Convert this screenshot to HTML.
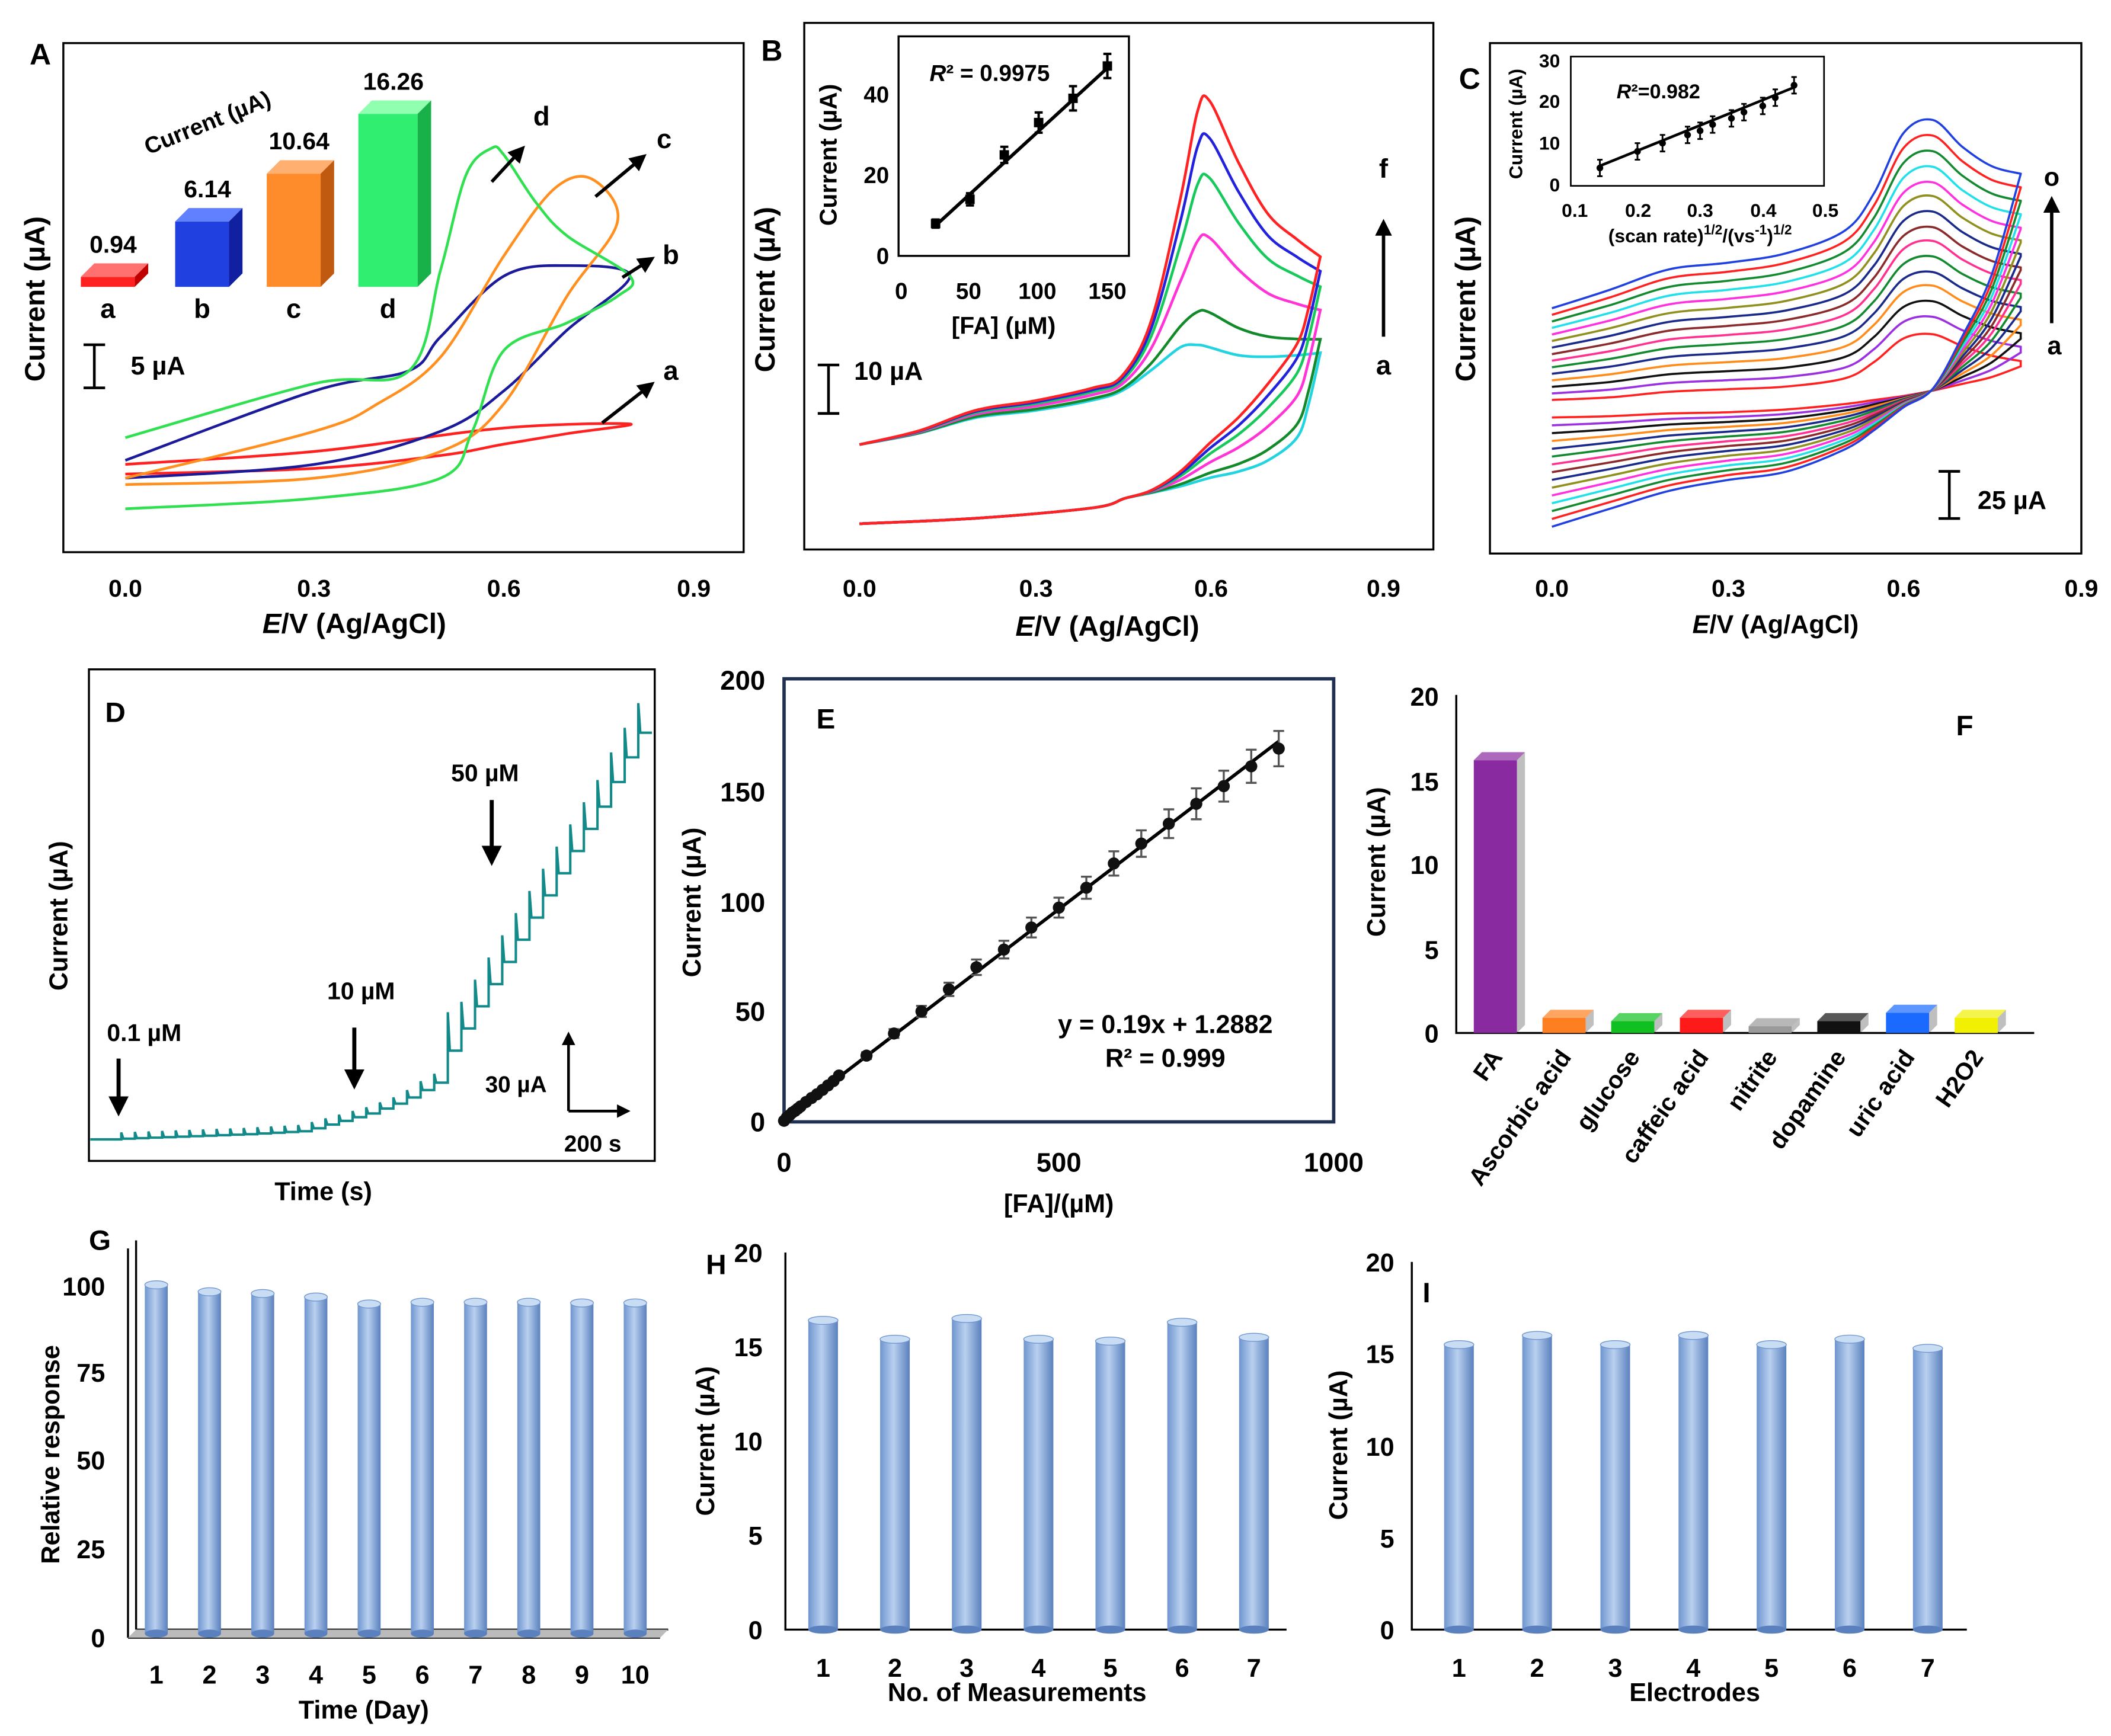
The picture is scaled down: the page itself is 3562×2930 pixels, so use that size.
<!DOCTYPE html>
<html><head><meta charset="utf-8"><title>FA sensor figure</title>
<style>
html,body{margin:0;padding:0;background:#fff;}
svg{display:block;}
text{font-family:"Liberation Sans",Arial,sans-serif;font-weight:bold;fill:#000;}
</style></head>
<body>
<svg id="fig" width="3562" height="2930" viewBox="0 0 1567 1289" xmlns="http://www.w3.org/2000/svg">
<defs>
<linearGradient id="cyl" x1="0" x2="1" y1="0" y2="0">
<stop offset="0" stop-color="#6f95cf"/><stop offset="0.45" stop-color="#b9d0ef"/><stop offset="1" stop-color="#5a80bd"/>
</linearGradient>
<marker id="ah" viewBox="0 0 10 10" refX="8" refY="5" markerWidth="5" markerHeight="5" orient="auto"><path d="M0,0 L10,5 L0,10 z" fill="#000"/></marker>
</defs>

<!-- Panel A static -->
<g>
<rect x="47" y="32" width="505" height="378" fill="none" stroke="#000" stroke-width="1.5"/>
<text x="22" y="48" font-size="22">A</text>
<g font-size="18" text-anchor="middle">
<text x="93" y="443">0.0</text><text x="233" y="443">0.3</text><text x="374" y="443">0.6</text><text x="515" y="443">0.9</text></g>
<text x="263" y="470" font-size="21" text-anchor="middle"><tspan font-style="italic">E</tspan>/V (Ag/AgCl)</text>
<text transform="translate(33,222) rotate(-90)" font-size="21" text-anchor="middle">Current (µA)</text>
<path d="M70,256 V288 M62,256 H78 M62,288 H78" stroke="#000" stroke-width="2" fill="none"/>
<text x="97" y="278" font-size="19">5 µA</text>
<text transform="translate(110,115) rotate(-22)" font-size="17" font-weight="normal">Current (µA)</text>
</g>

<!-- Panel B static -->
<g>
<rect x="597" y="17" width="467" height="391" fill="none" stroke="#000" stroke-width="1.5"/>
<text x="565" y="45" font-size="22">B</text>
<g font-size="18" text-anchor="middle">
<text x="638" y="443">0.0</text><text x="769" y="443">0.3</text><text x="899" y="443">0.6</text><text x="1027" y="443">0.9</text></g>
<text x="822" y="472" font-size="21" text-anchor="middle"><tspan font-style="italic">E</tspan>/V (Ag/AgCl)</text>
<text transform="translate(575,215) rotate(-90)" font-size="21" text-anchor="middle">Current (µA)</text>
<path d="M615,271 V307 M607,271 H623 M607,307 H623" stroke="#000" stroke-width="2" fill="none"/>
<text x="634" y="282" font-size="19">10 µA</text>
<line x1="1027" y1="250" x2="1027" y2="165" stroke="#000" stroke-width="2.5" marker-end="url(#ah)"/>
<text x="1027" y="132" font-size="20" text-anchor="middle">f</text>
<text x="1027" y="278" font-size="20" text-anchor="middle">a</text>
<rect x="667" y="27" width="171" height="163" fill="#fff" stroke="#000" stroke-width="1.5"/>
<g font-size="17" font-weight="normal">
<text x="669" y="222" text-anchor="middle">0</text><text x="719" y="222" text-anchor="middle">50</text><text x="770" y="222" text-anchor="middle">100</text><text x="822" y="222" text-anchor="middle">150</text>
<text x="660" y="196" text-anchor="end">0</text><text x="660" y="136" text-anchor="end">20</text><text x="660" y="76" text-anchor="end">40</text></g>
<text x="745" y="248" font-size="18" text-anchor="middle">[FA] (µM)</text>
<text transform="translate(621,115) rotate(-90)" font-size="18" text-anchor="middle">Current (µA)</text>
<text x="690" y="60" font-size="17"><tspan font-style="italic">R</tspan>² = 0.9975</text>
</g>

<!-- Panel C static -->
<g>
<rect x="1106" y="32" width="439" height="379" fill="none" stroke="#000" stroke-width="1.5"/>
<text x="1083" y="66" font-size="22">C</text>
<g font-size="18" text-anchor="middle">
<text x="1152" y="443">0.0</text><text x="1283" y="443">0.3</text><text x="1413" y="443">0.6</text><text x="1545" y="443">0.9</text></g>
<text x="1318" y="470" font-size="19" text-anchor="middle"><tspan font-style="italic">E</tspan>/V (Ag/AgCl)</text>
<text transform="translate(1095,222) rotate(-90)" font-size="21" text-anchor="middle">Current (µA)</text>
<path d="M1447,350 V385 M1439,350 H1455 M1439,385 H1455" stroke="#000" stroke-width="2" fill="none"/>
<text x="1468" y="378" font-size="19">25 µA</text>
<line x1="1523" y1="240" x2="1523" y2="148" stroke="#000" stroke-width="2.5" marker-end="url(#ah)"/>
<text x="1523" y="138" font-size="19" text-anchor="middle">o</text>
<text x="1525" y="263" font-size="19" text-anchor="middle">a</text>
<rect x="1166" y="42" width="188" height="96" fill="#fff" stroke="#000" stroke-width="1.2"/>
<g font-size="14" font-weight="normal">
<text x="1169" y="161" text-anchor="middle">0.1</text><text x="1216" y="161" text-anchor="middle">0.2</text><text x="1262" y="161" text-anchor="middle">0.3</text><text x="1309" y="161" text-anchor="middle">0.4</text><text x="1355" y="161" text-anchor="middle">0.5</text>
<text x="1158" y="142" text-anchor="end">0</text><text x="1158" y="111" text-anchor="end">10</text><text x="1158" y="80" text-anchor="end">20</text><text x="1158" y="50" text-anchor="end">30</text></g>
<text x="1262" y="180" font-size="14" text-anchor="middle">(scan rate)<tspan font-size="10" dy="-6">1/2</tspan><tspan dy="6">/(vs</tspan><tspan font-size="10" dy="-6">-1</tspan><tspan dy="6">)</tspan><tspan font-size="10" dy="-6">1/2</tspan></text>
<text transform="translate(1130,92) rotate(-90)" font-size="14" text-anchor="middle">Current (µA)</text>
<text x="1200" y="73" font-size="15"><tspan font-style="italic">R</tspan>²=0.982</text>
</g>

<!-- Panel D static -->
<g>
<rect x="66" y="497" width="420" height="365" fill="none" stroke="#000" stroke-width="1.5"/>
<text x="78" y="536" font-size="21">D</text>
<text transform="translate(50,680) rotate(-90)" font-size="19" text-anchor="middle">Current (µA)</text>
<text x="240" y="891" font-size="19" text-anchor="middle">Time (s)</text>
<text x="107" y="773" font-size="18" text-anchor="middle">0.1 µM</text>
<line x1="88" y1="786" x2="88" y2="826" stroke="#000" stroke-width="3" marker-end="url(#ah)"/>
<text x="268" y="742" font-size="18" text-anchor="middle">10 µM</text>
<line x1="263" y1="763" x2="263" y2="806" stroke="#000" stroke-width="3" marker-end="url(#ah)"/>
<text x="360" y="580" font-size="18" text-anchor="middle">50 µM</text>
<line x1="365" y1="594" x2="365" y2="640" stroke="#000" stroke-width="3" marker-end="url(#ah)"/>
<line x1="422" y1="825" x2="422" y2="768" stroke="#000" stroke-width="2" marker-end="url(#ah)"/>
<line x1="422" y1="825" x2="466" y2="825" stroke="#000" stroke-width="2" marker-end="url(#ah)"/>
<text x="383" y="811" font-size="17" text-anchor="middle">30 µA</text>
<text x="440" y="855" font-size="17" text-anchor="middle">200 s</text>
</g>

<!-- Panel E static -->
<g>
<rect x="582" y="504" width="408" height="329" fill="none" stroke="#1f3050" stroke-width="2.5"/>
<text x="606" y="541" font-size="21">E</text>
<g font-size="20" text-anchor="middle">
<text x="582" y="870">0</text><text x="786" y="870">500</text><text x="990" y="870">1000</text></g>
<g font-size="20" text-anchor="end">
<text x="568" y="840">0</text><text x="568" y="758">50</text><text x="568" y="677">100</text><text x="568" y="595">150</text><text x="568" y="512">200</text></g>
<text transform="translate(520,670) rotate(-90)" font-size="19" text-anchor="middle">Current (µA)</text>
<text x="786" y="900" font-size="19" text-anchor="middle">[FA]/(µM)</text>
<text x="865" y="767" font-size="19" text-anchor="middle">y = 0.19x + 1.2882</text>
<text x="865" y="792" font-size="19" text-anchor="middle">R² = 0.999</text>
</g>

<!-- Panel F static -->
<g>
<path d="M1081,516 V767 H1510" stroke="#000" stroke-width="1.5" fill="none"/>
<text x="1452" y="546" font-size="21">F</text>
<g font-size="19" text-anchor="end" font-weight="normal">
<text x="1068" y="774">0</text><text x="1068" y="712">5</text><text x="1068" y="649">10</text><text x="1068" y="587">15</text><text x="1068" y="524">20</text></g>
<text transform="translate(1028,640) rotate(-90)" font-size="19" text-anchor="middle">Current (µA)</text>
</g>

<!-- Panel G static -->
<g>
<path d="M95,1216 V927 M101,1210 V921 M95,1216 H490 M101,1210 H496" stroke="#000" stroke-width="1.5" fill="none"/>
<path d="M95,1216 L101,1210 H496 L490,1216 Z" fill="#bbb"/>
<text x="66" y="928" font-size="21">G</text>
<g font-size="19" text-anchor="end" font-weight="normal">
<text x="78" y="1223">0</text><text x="78" y="1157">25</text><text x="78" y="1091">50</text><text x="78" y="1026">75</text><text x="78" y="962">100</text></g>
<text transform="translate(44,1080) rotate(-90)" font-size="19" text-anchor="middle">Relative response</text>
<text x="270" y="1276" font-size="19" text-anchor="middle">Time (Day)</text>
</g>

<!-- Panel H static -->
<g>
<path d="M583,930 V1210 H955" stroke="#000" stroke-width="1.5" fill="none"/>
<text x="524" y="946" font-size="21">H</text>
<g font-size="19" text-anchor="end" font-weight="normal">
<text x="566" y="1217">0</text><text x="566" y="1147">5</text><text x="566" y="1077">10</text><text x="566" y="1007">15</text><text x="566" y="937">20</text></g>
<text transform="translate(530,1070) rotate(-90)" font-size="19" text-anchor="middle">Current (µA)</text>
<text x="755" y="1263" font-size="19" text-anchor="middle">No. of Measurements</text>
</g>

<!-- Panel I static -->
<g>
<path d="M1048,937 V1210 H1460" stroke="#000" stroke-width="1.5" fill="none"/>
<text x="1056" y="967" font-size="21">I</text>
<g font-size="19" text-anchor="end" font-weight="normal">
<text x="1035" y="1217">0</text><text x="1035" y="1149">5</text><text x="1035" y="1081">10</text><text x="1035" y="1012">15</text><text x="1035" y="944">20</text></g>
<text transform="translate(1000,1073) rotate(-90)" font-size="19" text-anchor="middle">Current (µA)</text>
<text x="1258" y="1263" font-size="19" text-anchor="middle">Electrodes</text>
</g>
</svg>

<script>
// ---------- DATA ----------
// Panel A inset bars
const aBarLabels = ['a','b','c','d'];
const aBarValues = [0.94, 6.14, 10.64, 16.26];
// Panel A CVs (E in V, I in µA rel.)
const aE_a_fwd = [0,0.3,0.5,0.6,0.7,0.8];        const aI_a_fwd = [8,8.7,10.3,11.7,13,14.2];
const aE_a_rev = [0.8,0.6,0.3,0];                const aI_a_rev = [14.2,13.7,10.8,9.2];
const aE_b_fwd = [0,0.3,0.5,0.6,0.7,0.8];        const aI_b_fwd = [7.5,9.2,13.3,18.3,25.8,32.5];
const aE_b_rev = [0.8,0.7,0.6,0.5,0.45,0.3,0];   const aI_b_rev = [32.5,33.8,32.5,25,20.8,18.3,9.7];
const aE_c_fwd = [0,0.3,0.5,0.6,0.7,0.78];       const aI_c_fwd = [6.7,7.5,10.8,16.7,30,39.2];
const aE_c_rev = [0.78,0.74,0.68,0.6,0.5,0.4,0.3,0]; const aI_c_rev = [39.2,44.5,43.3,35,22.5,16.7,13.3,7.5];
const aE_d_fwd = [0,0.3,0.5,0.55,0.6,0.7,0.78,0.8]; const aI_d_fwd = [3.7,5,7.5,13.3,23.3,26.7,30,32.5];
const aE_d_rev = [0.8,0.7,0.65,0.6,0.58,0.54,0.5,0.45,0.3,0]; const aI_d_rev = [32.5,37.5,41.7,47.5,48.3,45,33.3,20.8,19.2,12.5];

// Panel B CVs
const bE_up = [0,0.1,0.2,0.3,0.4,0.45,0.5,0.55,0.58,0.6,0.65,0.7,0.75,0.79];
const bBaseUp = [18.9,21.1,24.3,25.7,27.8,29.7,33.8,38.4,38.9,38.4,36.8,36.5,36.8,37.3];
const bShapeUp = [0,0.01,0.03,0.04,0.05,0.06,0.2,0.6,0.95,1,0.78,0.58,0.47,0.39];
const bE_lo = [0,0.2,0.4,0.455,0.5,0.55,0.6,0.65,0.7,0.75,0.77,0.79];
const bBaseLo = [3.0,4.1,6.2,8.1,9.2,10.5,12.2,13.5,15.7,20.3,27.0,37.3];
const bShapeLo = [0,0,0,0,0.01,0.06,0.14,0.22,0.31,0.38,0.39,0.39];
const bPeaks = [0, 7, 22, 34, 42, 49.5];
const bColors = ['#22d3e0','#138a2a','#ff33d6','#16c95a','#2222dd','#ff2222'];
// Panel B inset
const bInConc = [25,50,75,100,125,150];
const bInCur = [8,14,25,33,39,47];
const bInErr = [1,1.5,2,2.5,3,3];

// Panel C CVs (15 scan rates)
const cE = [0,0.1,0.2,0.3,0.4,0.5,0.55,0.6,0.65,0.7,0.75,0.8];
const cBaseUp = [23.6,25,27.9,29.3,30.7,32.9,35,36.4,36.4,35.7,35,34.3];
const cSpUp = [3.47,4.08,4.64,4.79,5.05,5.31,5.26,5.21,5.26,5.41,5.61,5.81];
const cBaseLo = [14.3,15,16.4,17.1,18.6,21.4,23.6,25.7,28.6,32.1,35.7,41.4];
const cSpLo = [-4.14,-3.5,-2.93,-2.57,-2.36,-1.71,-1.14,-0.43,0.07,1.79,3.86,7.29];
const cShape = [0,0,0,0,0,0.1,0.4,0.9,1,0.75,0.55,0.45];
const cPeaks = [22,26,29,32,34,37,40,42,45,48,50,53,56,59,62];
const cColors = ['#ff2020','#9a30e0','#111111','#ff8c1a','#1a2a8a','#138a30','#ff3090','#8a2a2a','#1a2a8a','#909020','#ff30e0','#20e0e8','#138a30','#ff2020','#2040e0'];
// Panel C inset
const cInX = [0.14,0.2,0.24,0.28,0.3,0.32,0.35,0.37,0.4,0.42,0.45];
const cInY = [4,8,10,12,13,14.5,16,17.5,19,21,24];

// Panel D amperometric step levels (µA)
const dLevels = [0.3,0.5,0.7,0.9,1.1,1.3,1.5,1.7,1.9,2.1,2.4,2.7,3.0,3.3,
  4.5,6,7.5,9,10.5,12.5,14.5,17,20,23,
  36,45,54,63,72,81,90,99,108,117,126,135,145,155,165];

// Panel E calibration
const eConc = [0,5,10,15,20,25,30,40,50,60,70,80,90,100,150,200,250,300,350,400,450,500,550,600,650,700,750,800,850,900];
const eCur = [0.5,2,3,4.2,5,6,7,9,10.8,12.5,14.5,16.5,18.5,21,30,40,50,60,70,78,88,97,106,117,126,135,144,152,161,169];
const eErr = [0.5,0.5,0.5,0.5,0.5,0.5,0.6,0.6,0.7,0.8,0.8,0.9,1,1,1.5,2,2.5,3,3.5,4,4.5,4.5,5,5.5,6,6.5,7,7,7.5,8];
const eSlope = 0.19, eIntercept = 1.2882;

// Panel F interference
const fCats = ['FA','Ascorbic acid','glucose','caffeic acid','nitrite','dopamine','uric acid','H2O2'];
const fVals = [16.2,0.9,0.7,0.9,0.4,0.7,1.2,0.9];
const fColors = ['#8a2aa0','#ff7f20','#10c020','#ff1a1a','#9a9a9a','#111111','#1a6aff','#f0f000'];

// Panel G stability
const gCats = ['1','2','3','4','5','6','7','8','9','10'];
const gVals = [100,98,97.5,96.5,94.5,95,95,95,94.8,94.8];
// Panel H repeatability
const hCats = ['1','2','3','4','5','6','7'];
const hVals = [16.4,15.4,16.5,15.4,15.3,16.3,15.5];
// Panel I reproducibility
const iCats = ['1','2','3','4','5','6','7'];
const iVals = [15.5,16,15.5,16,15.5,15.8,15.3];

// ---------- HELPERS ----------
const NS = 'http://www.w3.org/2000/svg';
const svg = document.getElementById('fig');
function mk(tag, attrs, parent){
  const el = document.createElementNS(NS, tag);
  for (const k in attrs) el.setAttribute(k, attrs[k]);
  (parent||svg).appendChild(el);
  return el;
}
function nm(el, n){
  
  
  return el;
}
function smooth(p){
  let d = 'M'+p[0][0].toFixed(1)+','+p[0][1].toFixed(1);
  for (let i=0;i<p.length-1;i++){
    const p0=p[i-1]||p[i], p1=p[i], p2=p[i+1], p3=p[i+2]||p2;
    const c1=[p1[0]+(p2[0]-p0[0])/6, p1[1]+(p2[1]-p0[1])/6];
    const c2=[p2[0]-(p3[0]-p1[0])/6, p2[1]-(p3[1]-p1[1])/6];
    d += ' C'+c1.map(v=>v.toFixed(1))+' '+c2.map(v=>v.toFixed(1))+' '+p2[0].toFixed(1)+','+p2[1].toFixed(1);
  }
  return d;
}
function txt(x,y,s,size,name,extra){
  const t = mk('text', Object.assign({x:x,y:y,'font-size':size,'text-anchor':'middle'}, extra||{}));
  t.textContent = s;
  nm(t, name);
  return t;
}
function arrow(x1,y1,x2,y2,name){
  const l = mk('line',{x1:x1,y1:y1,x2:x2,y2:y2,stroke:'#000','stroke-width':2.5,'marker-end':'url(#ah)'});
  nm(l, name);
}

// ---------- PANEL A ----------
const xA = E => 93 + E*468.3;
const yA = I => 400 - 6*I;
const aBarX = [60,130,198,266];
const aBarW = [40,40,40,44];
const aCol = [['#ff2020','#c00000','#ff7070'],['#2040e0','#1020a0','#6080ff'],['#ff8c2a','#c05a10','#ffb070'],['#30ee70','#18b048','#90ffb0']];
const barYA = v => 213 - v*7.9;
aBarValues.forEach((v,i)=>{
  const x=aBarX[i], w=aBarW[i], top=barYA(v), dp=10;
  const g = nm(mk('g',{}), 'inset-bar-'+aBarLabels[i]);
  mk('rect',{x:x,y:top,width:w,height:213-top,fill:aCol[i][0]},g);
  mk('path',{d:`M${x},${top} L${x+dp},${top-dp} L${x+w+dp},${top-dp} L${x+w},${top} Z`,fill:aCol[i][2]},g);
  mk('path',{d:`M${x+w},${top} L${x+w+dp},${top-dp} L${x+w+dp},${213-dp} L${x+w},213 Z`,fill:aCol[i][1]},g);
  txt(x+w/2+4, top-dp-8, v.toFixed(2), 18, 'inset-value-'+aBarLabels[i]);
  txt(x+w/2, 236, aBarLabels[i], 20, 'inset-label-'+aBarLabels[i]);
});
const aCurves = [
  ['a','#ff2020',aE_a_fwd,aI_a_fwd,aE_a_rev,aI_a_rev],
  ['b','#1a1a9a',aE_b_fwd,aI_b_fwd,aE_b_rev,aI_b_rev],
  ['c','#ff9020',aE_c_fwd,aI_c_fwd,aE_c_rev,aI_c_rev],
  ['d','#30e050',aE_d_fwd,aI_d_fwd,aE_d_rev,aI_d_rev]];
aCurves.forEach(c=>{
  const pts = c[2].map((e,i)=>[xA(e),yA(c[3][i])]).concat(c[4].slice(1).map((e,i)=>[xA(e),yA(c[5][i+1])]));
  nm(mk('path',{d:smooth(pts),fill:'none',stroke:c[1],'stroke-width':2}), 'cv-curve-'+c[0]);
});
arrow(365,135,388,110,'arrow-d'); txt(402,93,'d',20,'label-d');
arrow(442,146,478,116,'arrow-c'); txt(493,110,'c',20,'label-c');
arrow(462,206,484,192,'arrow-b'); txt(498,196,'b',20,'label-b');
arrow(447,314,484,285,'arrow-a'); txt(498,282,'a',20,'label-a');

// ---------- PANEL B ----------
const xB = E => 638 + E*433;
const yB = I => 400 - 3.7*I;
bPeaks.forEach((pk,k)=>{
  const up = bE_up.map((e,i)=>[xB(e), yB(bBaseUp[i] + pk*bShapeUp[i])]);
  const lo = bE_lo.map((e,i)=>[xB(e), yB(bBaseLo[i] + pk*bShapeLo[i])]);
  nm(mk('path',{d:smooth(lo)+' '+smooth(up.slice().reverse()).replace('M','L'),fill:'none',stroke:bColors[k],'stroke-width':2}), 'cv-b-curve-'+k);
});
const xBi = c => 669 + c*1.02;
const yBi = v => 190 - v*3;
nm(mk('line',{x1:xBi(25),y1:yBi(7.5),x2:xBi(150),y2:yBi(46.5),stroke:'#000','stroke-width':2.5}),'inset-b-fit-line');
bInConc.forEach((c,i)=>{
  nm(mk('path',{d:`M${xBi(c)},${yBi(bInCur[i]-bInErr[i])} V${yBi(bInCur[i]+bInErr[i])} M${xBi(c)-3},${yBi(bInCur[i]-bInErr[i])} h6 M${xBi(c)-3},${yBi(bInCur[i]+bInErr[i])} h6`,stroke:'#000','stroke-width':1.8,fill:'none'}),'inset-b-errorbar');
  nm(mk('rect',{x:xBi(c)-3.5,y:yBi(bInCur[i])-3.5,width:7,height:7,fill:'#000'}),'inset-b-point');
});

// ---------- PANEL C ----------
const xC = E => 1152 + E*435;
const yC = I => 330 - 1.4*I;
cPeaks.forEach((pk,k)=>{
  const up = cE.map((e,i)=>[xC(e), yC(cBaseUp[i] + k*cSpUp[i] + pk*cShape[i])]);
  const lo = cE.map((e,i)=>[xC(e), yC(cBaseLo[i] + k*cSpLo[i])]);
  nm(mk('path',{d:smooth(lo)+' '+smooth(up.slice().reverse()).replace('M','L'),fill:'none',stroke:cColors[k],'stroke-width':1.6}), 'cv-c-curve-'+k);
});
const xCi = v => 1169 + (v-0.1)*465;
const yCi = v => 137 - v*3.07;
nm(mk('line',{x1:xCi(0.14),y1:yCi(4.5),x2:xCi(0.45),y2:yCi(23.5),stroke:'#000','stroke-width':2}),'inset-c-fit-line');
cInX.forEach((x,i)=>{
  nm(mk('path',{d:`M${xCi(x)},${yCi(cInY[i]-2)} V${yCi(cInY[i]+2)} M${xCi(x)-2},${yCi(cInY[i]-2)} h4 M${xCi(x)-2},${yCi(cInY[i]+2)} h4`,stroke:'#000','stroke-width':1.3,fill:'none'}),'inset-c-errorbar');
  nm(mk('circle',{cx:xCi(x),cy:yCi(cInY[i]),r:2.5,fill:'#000'}),'inset-c-point');
});

// ---------- PANEL D ----------
const xD = i => 90 + i*10.1;
const yD = I => 846 - 1.83*I;
{
  let d = `M67,${yD(0)} H${xD(0)}`;
  let prev = 0;
  dLevels.forEach((lv,i)=>{
    const inc = lv - prev;
    const sp = Math.max(2.5, inc*1.2);
    const x = xD(i);
    d += ` V${yD(lv+sp)} L${x+1.5},${yD(lv)} H${Math.min(xD(i+1),486)}`;
    prev = lv;
  });
  nm(mk('path',{d:d,fill:'none',stroke:'#138a8a','stroke-width':1.8,'clip-path':'url(#clipD)'}),'amperometric-trace');
  const cp = mk('clipPath',{id:'clipD'}); mk('rect',{x:66,y:497,width:420,height:365},cp);
}

// ---------- PANEL E ----------
const xE = c => 582 + c*0.408;
const yE = I => 833 - 1.64*I;
nm(mk('line',{x1:xE(0),y1:yE(eIntercept),x2:xE(900),y2:yE(eSlope*900+eIntercept),stroke:'#000','stroke-width':2.5}),'fit-line');
eConc.forEach((c,i)=>{
  const x=xE(c), y=yE(eCur[i]), e=eErr[i]*1.64;
  nm(mk('path',{d:`M${x},${y-e} V${y+e} M${x-4},${y-e} h8 M${x-4},${y+e} h8`,stroke:'#555','stroke-width':1.5,fill:'none'}),'errorbar-e');
  nm(mk('circle',{cx:x,cy:y,r:4.5,fill:'#111'}),'point-e');
});

// ---------- PANEL F ----------
const xF = i => 1110 + i*51;
const yF = v => 767 - v*12.5;
fVals.forEach((v,i)=>{
  const x=xF(i)-16, w=32, top=yF(v), dp=6;
  const g = nm(mk('g',{}), 'bar-'+fCats[i].toLowerCase().replace(/\s+/g,'-'));
  mk('rect',{x:x,y:top,width:w,height:767-top,fill:fColors[i]},g);
  mk('path',{d:`M${x},${top} l${dp},${-dp} h${w} l${-dp},${dp} Z`,fill:fColors[i],opacity:0.7},g);
  mk('path',{d:`M${x+w},${top} l${dp},${-dp} V${767-dp} L${x+w},767 Z`,fill:'#000',opacity:0.25},g);
  txt(xF(i)+6, 785, fCats[i], 18, 'x-label-'+i, {'text-anchor':'end',transform:`rotate(-55 ${xF(i)+6} 785)`});
});

// ---------- CYLINDER BARS (G,H,I) ----------
function cylBars(cats, vals, xf, yf, base, w, prefix, labY){
  vals.forEach((v,i)=>{
    const x=xf(i), top=yf(v), r=w/2;
    const g = nm(mk('g',{}), prefix+'-bar-'+cats[i]);
    mk('rect',{x:x-r,y:top,width:w,height:base-top,fill:'url(#cyl)'},g);
    mk('ellipse',{cx:x,cy:base,rx:r,ry:3,fill:'#5a80bd'},g);
    mk('ellipse',{cx:x,cy:top,rx:r,ry:3,fill:'#c8dcf4',stroke:'#6f95cf','stroke-width':0.6},g);
    txt(x, labY, cats[i], 19, prefix+'-x-tick-'+cats[i], {'font-weight':'normal'});
  });
}
cylBars(gCats, gVals, i=>116+i*39.5, v=>1213-v*2.59, 1213, 17, 'g', 1250);
cylBars(hCats, hVals, i=>611+i*53.3, v=>1210-v*14, 1210, 22, 'h', 1245);
cylBars(iCats, iVals, i=>1083+i*58, v=>1210-v*13.65, 1210, 22, 'i', 1245);
</script>
</body></html>
